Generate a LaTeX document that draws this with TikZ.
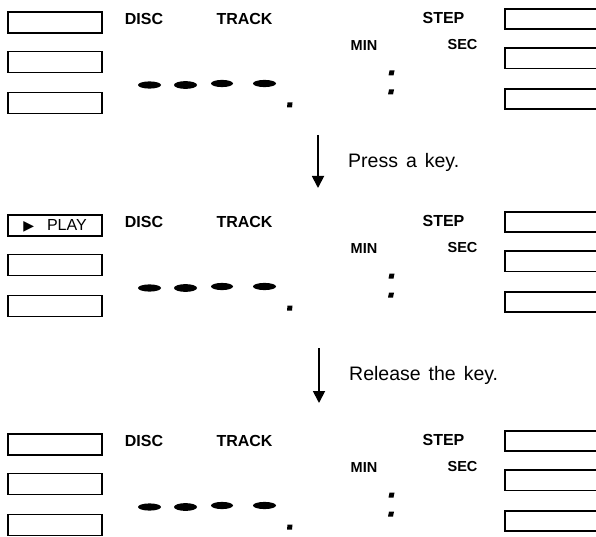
\documentclass[tikz,border=0pt]{standalone}
\usepackage{fontspec}
\setmainfont{Liberation Sans}
\newfontfamily\symfont{DejaVu Sans}
\usetikzlibrary{arrows.meta}
\tikzset{
  box/.style={draw, line width=1.1pt, minimum width=94pt, minimum height=21pt, inner sep=0pt,
              font=\fontsize{16}{16}\selectfont},
  rbox/.style={line width=1.1pt},
  lbl/.style={font=\fontsize{16}{16}\selectfont\bfseries, inner sep=0pt},
  smalllbl/.style={font=\fontsize{14.5}{14.5}\selectfont\bfseries, inner sep=0pt},
  caption/.style={font=\fontsize{19.5}{19.5}\selectfont, inner sep=0pt, anchor=west},
  arr/.style={line width=1.8pt, -{Triangle[length=12pt,width=12pt]}},
}
\newcommand\panelat[3]{%
  \begin{scope}[shift={(0,#1)}]
    \node[box] (#2l1) at (55,23.5) {#3};
    \node[box] (#2l2) at (55,63) {};
    \node[box] (#2l3) at (55,104) {};
    \draw[rbox] (596,10) -- (505,10) -- (505,30) -- (596,30);
    \draw[rbox] (596,49) -- (505,49) -- (505,69.5) -- (596,69.5);
    \draw[rbox] (596,90) -- (505,90) -- (505,110) -- (596,110);
    \node[lbl] (#2disc) at (144,20) {DISC};
    \node[lbl] (#2track) at (244.5,20) {TRACK};
    \node[lbl] (#2step) at (443.5,18.5) {STEP};
    \node[smalllbl] (#2min) at (364,47) {MIN};
    \node[smalllbl] (#2sec) at (462.5,45.5) {SEC};
    \fill (149.5,86) ellipse (11.5 and 3.6);
    \fill (185.5,86) ellipse (11.5 and 3.9);
    \fill (222,84.5) ellipse (11 and 3.6);
    \fill (264.5,84.5) ellipse (11.5 and 3.6);
    \fill (287.5,103.5) -- (292.5,103.5) -- (292,108.5) -- (287,108.5) -- cycle;
    \fill (389.5,71.5) -- (394.5,71.5) -- (393.5,76.5) -- (388.5,76.5) -- cycle;
    \fill (389,90.5) -- (394,90.5) -- (393,95.5) -- (388,95.5) -- cycle;
  \end{scope}}
\begin{document}
\begin{tikzpicture}[x=1pt,y=-1pt]
\useasboundingbox (0,0) rectangle (596,537);
\fill[white] (0,0) rectangle (596,537);
\panelat{-1}{a}{}
\panelat{202}{b}{{\symfont\fontsize{14}{14}\selectfont ▶}\hspace{13pt}PLAY}
\panelat{421}{c}{}
\coordinate (a1s) at (318,135);
\coordinate (a1e) at (318,188);
\draw[arr] (a1s) -- (a1e);
\node[caption] (t1) at (348,162.5) {Press\hspace{8pt}a\hspace{8pt}key.};
\coordinate (a2s) at (319,348);
\coordinate (a2e) at (319,403);
\draw[arr] (a2s) -- (a2e);
\node[caption] (t2) at (349,375) {Release\hspace{8pt}the\hspace{8pt}key.};
\end{tikzpicture}
\end{document}
